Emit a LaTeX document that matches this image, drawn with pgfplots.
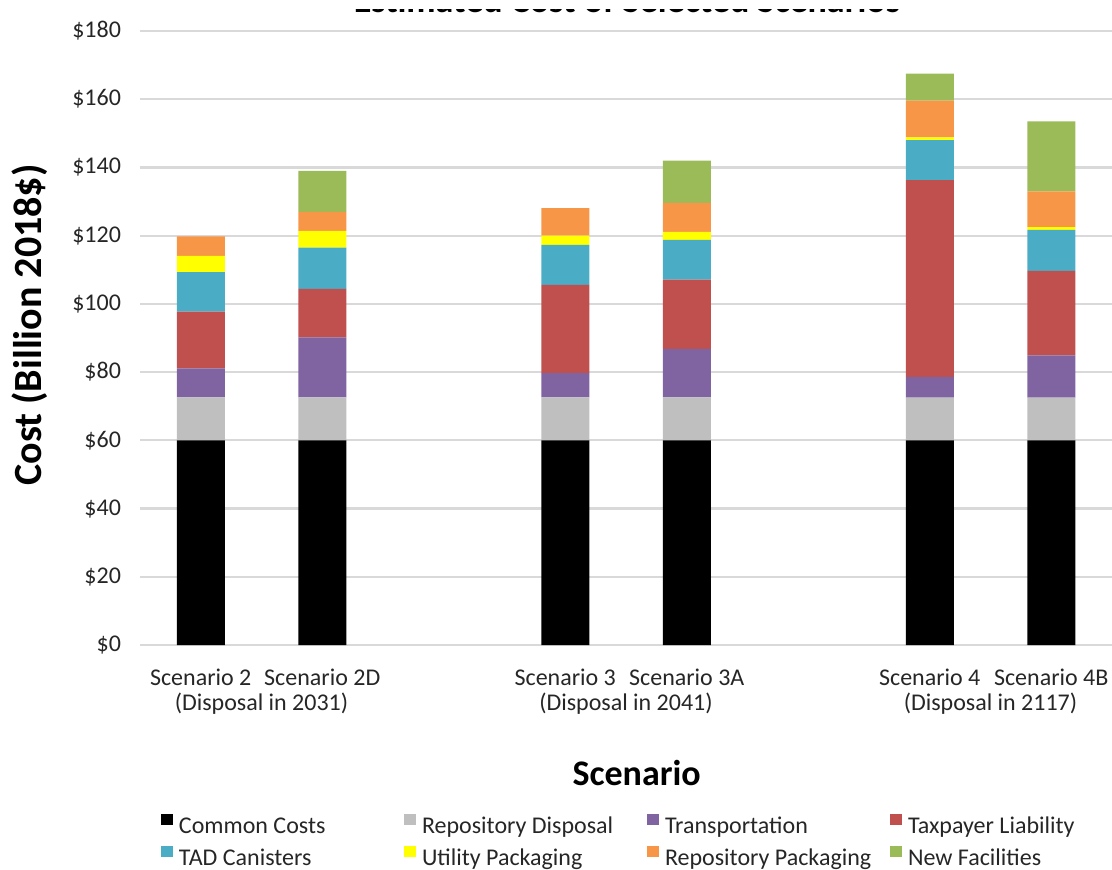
\documentclass[border=0pt]{standalone}
\usepackage{fontspec}
\setmainfont{Carlito}
\usepackage{pgfplots}
\usepackage{pgfplotstable}
\pgfplotsset{compat=1.18}

\definecolor{cCommon}{HTML}{000000}
\definecolor{cRepDisp}{HTML}{BFBFBF}
\definecolor{cTransp}{HTML}{8064A2}
\definecolor{cTaxpayer}{HTML}{C0504D}
\definecolor{cTAD}{HTML}{4BACC6}
\definecolor{cUtility}{HTML}{FFFF00}
\definecolor{cRepPkg}{HTML}{F79646}
\definecolor{cNewFac}{HTML}{9BBB59}
\definecolor{gridgray}{HTML}{D9D9D9}
\definecolor{labelgray}{HTML}{262626}

% cost components in billion 2018$, one row per scenario (x = slot on the axis)
\pgfplotstableread{
x common repdisp transp taxpayer tad utility reppkg newfac
0 60 12.6 8.5  16.6 11.6 4.8 5.7  0
1 60 12.6 17.6 14.2 12.1 4.9 5.6  12.0
3 60 12.6 7.1  25.9 11.7 2.7 8.1  0
4 60 12.6 14.2 20.3 11.7 2.3 8.5  12.4
6 60 12.5 6.1  57.7 11.7 0.8 10.8 7.9
7 60 12.5 12.4 24.8 12.0 0.8 10.5 20.5
}\costs

\newcommand{\legtext}[1]{\makebox[112.5pt][l]{#1\strut}}

\begin{document}
\begin{tikzpicture}
% chart title, drawn first; only its lowest edge stays visible
\node[anchor=base, inner sep=0pt, font=\fontsize{18}{21}\selectfont\bfseries]
  at (243.5pt,316pt) {Estimated Cost of Selected Scenarios};
\fill[white] (-70pt,318pt) rectangle (486pt,340pt);
\begin{axis}[
  scale only axis,
  width=486pt, height=307pt,
  ybar stacked, bar width=24pt,
  xmin=-0.5, xmax=7.5, ymin=0, ymax=180,
  axis line style={draw=none},
  tick style={draw=none},
  major tick length=0pt,
  ymajorgrids,
  grid style={color=gridgray, line width=1.1pt},
  ytick={0,20,...,180},
  yticklabels={\$0,\$20,\$40,\$60,\$80,\$100,\$120,\$140,\$160,\$180},
  yticklabel style={anchor=east, xshift=-6pt, font=\fontsize{12}{14}\selectfont, text=labelgray},
  xtick={0,1,3,4,6,7},
  xticklabels={Scenario 2,Scenario 2D,Scenario 3,Scenario 3A,Scenario 4,Scenario 4B},
  xticklabel style={anchor=base, yshift=-20pt, font=\fontsize{12}{14}\selectfont, text=labelgray},
  extra x ticks={0.5,3.5,6.5},
  extra x tick labels={(Disposal in 2031),(Disposal in 2041),(Disposal in 2117)},
  extra x tick style={xticklabel style={yshift=-12.5pt}},
  every axis x label/.style={at={(axis description cs:0.511,0)}, anchor=base, yshift=-70pt},
  every axis y label/.style={at={(axis description cs:-0.113,0.521)}, rotate=90, anchor=center},
  xlabel={\fontsize{18}{21}\selectfont\bfseries Scenario},
  ylabel={\fontsize{20}{24}\selectfont\bfseries Cost (Billion 2018\$)},
  legend columns=4,
  legend style={at={(0.0216,-0.2755)}, anchor=north west, draw=none, fill=none,
    inner sep=0pt, outer sep=0pt, font=\fontsize{12}{14}\selectfont, text=labelgray,
    column sep=0pt, row sep=4.5pt, nodes={inner sep=0pt},
    /tikz/every odd column/.append style={column sep=3pt}},
  seg/.style={fill=#1, draw=none,
    legend image code/.code={\fill[#1] (0pt,0pt) rectangle (6pt,5.6pt);}},
]
\addplot[seg=cCommon]   table[x=x, y=common]   {\costs};
\addlegendentry{\legtext{Common Costs}}
\addplot[seg=cRepDisp]  table[x=x, y=repdisp]  {\costs};
\addlegendentry{\legtext{Repository Disposal}}
\addplot[seg=cTransp]   table[x=x, y=transp]   {\costs};
\addlegendentry{\legtext{Transportation}}
\addplot[seg=cTaxpayer] table[x=x, y=taxpayer] {\costs};
\addlegendentry{\legtext{Taxpayer Liability}}
\addplot[seg=cTAD]      table[x=x, y=tad]      {\costs};
\addlegendentry{\legtext{TAD Canisters}}
\addplot[seg=cUtility]  table[x=x, y=utility]  {\costs};
\addlegendentry{\legtext{Utility Packaging}}
\addplot[seg=cRepPkg]   table[x=x, y=reppkg]   {\costs};
\addlegendentry{\legtext{Repository Packaging}}
\addplot[seg=cNewFac]   table[x=x, y=newfac]   {\costs};
\addlegendentry{\legtext{New Facilities}}
\end{axis}
\pgfresetboundingbox
\useasboundingbox (-70pt,-112pt) rectangle (486pt,322.5pt);
\end{tikzpicture}
\end{document}
